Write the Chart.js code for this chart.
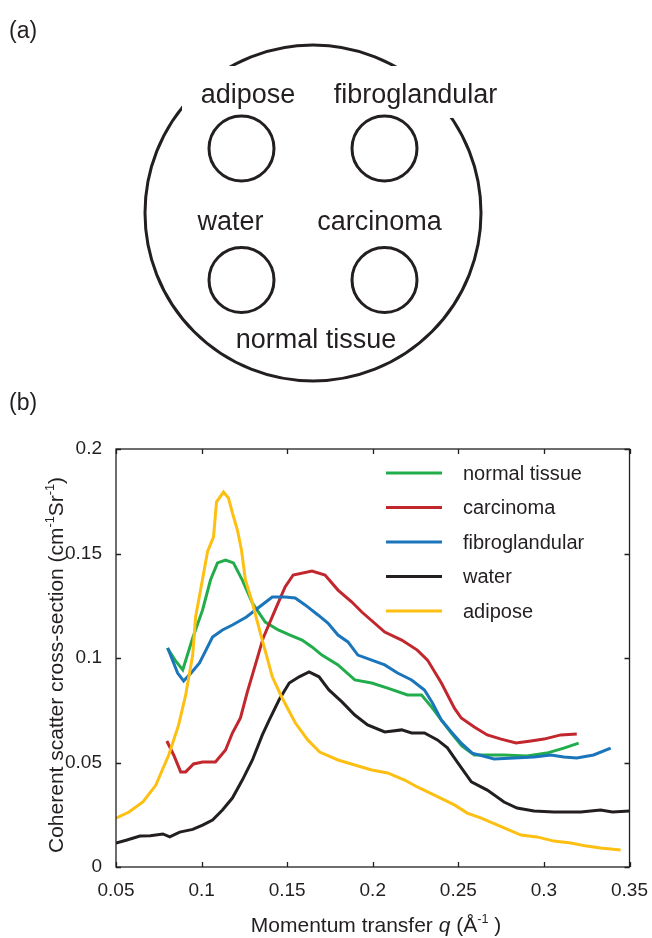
<!DOCTYPE html>
<html>
<head>
<meta charset="utf-8">
<script src="https://cdn.jsdelivr.net/npm/chart.js@4.4.1/dist/chart.umd.min.js"></script>
<style>
  html, body { margin: 0; padding: 0; background: #fff; }
  #quadro { position: relative; width: 652px; height: 938px; }
  #grafico { position: absolute; left: 0; top: 0; }
  #esquema { position: absolute; left: 0; top: 0; }
  #esquema text { font-family: 'Liberation Sans', Arial, sans-serif; fill: #231f20; }
</style>
</head>
<body>
<div id="quadro">
  <canvas id="grafico" width="652" height="938"></canvas>
  <svg id="esquema" width="652" height="430" viewBox="0 0 652 430">
    <text x="9" y="38" font-size="23">(a)</text>
    <circle cx="313" cy="213" r="168" fill="none" stroke="#231f20" stroke-width="3"/>
    <rect x="182" y="66" width="120" height="44" fill="#fff"/>
    <rect x="325" y="66" width="180" height="52" fill="#fff"/>
    <circle cx="241.5" cy="148.5" r="32.5" fill="none" stroke="#231f20" stroke-width="3"/>
    <circle cx="384.5" cy="148.5" r="32.5" fill="none" stroke="#231f20" stroke-width="3"/>
    <circle cx="241.5" cy="280" r="32.5" fill="none" stroke="#231f20" stroke-width="3"/>
    <circle cx="384.5" cy="280" r="32.5" fill="none" stroke="#231f20" stroke-width="3"/>
    <text x="248" y="103" font-size="27" text-anchor="middle">adipose</text>
    <text x="415.5" y="103" font-size="27" text-anchor="middle">fibroglandular</text>
    <text x="230.5" y="230" font-size="27" text-anchor="middle">water</text>
    <text x="379.5" y="230" font-size="27" text-anchor="middle">carcinoma</text>
    <text x="316" y="348" font-size="27" text-anchor="middle">normal tissue</text>
    <text x="9" y="410" font-size="23">(b)</text>
  </svg>
</div>
<script>
// valores (b)
const rotulos = ['normal tissue', 'carcinoma', 'fibroglandular', 'water', 'adipose'];
const cores = ['#21ad4b', '#c1272d', '#1b75bb', '#231f20', '#fdbf12'];

const q_normal = [0.0800, 0.0845, 0.0890, 0.0948, 0.1006, 0.1052, 0.1093, 0.1140, 0.1186, 0.1238, 0.1297, 0.1372, 0.1448, 0.1517, 0.1587, 0.1645, 0.1703, 0.1797, 0.1895, 0.1994, 0.2087, 0.2203, 0.2285, 0.2343, 0.2401, 0.2459, 0.2520, 0.2593, 0.2767, 0.2901, 0.3017, 0.3116, 0.3203];
const cs_normal = [0.1048, 0.0990, 0.0943, 0.1096, 0.1230, 0.1373, 0.1455, 0.1469, 0.1455, 0.1373, 0.1263, 0.1172, 0.1134, 0.1110, 0.1086, 0.1053, 0.1014, 0.0967, 0.0895, 0.0880, 0.0856, 0.0823, 0.0823, 0.0766, 0.0703, 0.0641, 0.0580, 0.0536, 0.0536, 0.0531, 0.0545, 0.0569, 0.0593];

const q_carcinoma = [0.0797, 0.0837, 0.0878, 0.0907, 0.0953, 0.1006, 0.1081, 0.1140, 0.1180, 0.1227, 0.1267, 0.1314, 0.1360, 0.1430, 0.1488, 0.1535, 0.1645, 0.1721, 0.1797, 0.1878, 0.1936, 0.2070, 0.2169, 0.2260, 0.2320, 0.2401, 0.2477, 0.2517, 0.2593, 0.2669, 0.2750, 0.2837, 0.2924, 0.3000, 0.3099, 0.3192];
const cs_carcinoma = [0.0603, 0.0536, 0.0455, 0.0455, 0.0493, 0.0502, 0.0502, 0.0560, 0.0641, 0.0713, 0.0837, 0.0967, 0.1096, 0.1230, 0.1340, 0.1397, 0.1416, 0.1397, 0.1325, 0.1268, 0.1220, 0.1124, 0.1086, 0.1038, 0.0990, 0.0880, 0.0760, 0.0713, 0.0670, 0.0632, 0.0612, 0.0593, 0.0603, 0.0612, 0.0632, 0.0636];

const q_fibro = [0.0802, 0.0860, 0.0895, 0.0940, 0.0988, 0.1064, 0.1122, 0.1180, 0.1262, 0.1337, 0.1413, 0.1488, 0.1547, 0.1605, 0.1680, 0.1738, 0.1797, 0.1855, 0.1913, 0.1994, 0.2070, 0.2145, 0.2227, 0.2302, 0.2349, 0.2401, 0.2459, 0.2520, 0.2581, 0.2709, 0.2826, 0.2942, 0.3041, 0.3116, 0.3192, 0.3290, 0.3390];
const cs_fibro = [0.1048, 0.0928, 0.0890, 0.0930, 0.0976, 0.1100, 0.1134, 0.1158, 0.1196, 0.1244, 0.1292, 0.1292, 0.1287, 0.1254, 0.1206, 0.1167, 0.1110, 0.1077, 0.1014, 0.0990, 0.0967, 0.0928, 0.0895, 0.0847, 0.0785, 0.0703, 0.0646, 0.0590, 0.0545, 0.0517, 0.0522, 0.0526, 0.0536, 0.0526, 0.0522, 0.0536, 0.0569];

const q_agua = [0.0500, 0.0564, 0.0640, 0.0700, 0.0774, 0.0814, 0.0872, 0.0948, 0.1006, 0.1064, 0.1122, 0.1180, 0.1238, 0.1297, 0.1355, 0.1395, 0.1453, 0.1512, 0.1570, 0.1628, 0.1686, 0.1744, 0.1820, 0.1895, 0.1970, 0.2070, 0.2169, 0.2227, 0.2302, 0.2378, 0.2436, 0.2494, 0.2576, 0.2669, 0.2767, 0.2843, 0.2942, 0.3058, 0.3215, 0.3331, 0.3400, 0.3500];
const cs_agua = [0.0115, 0.0129, 0.0148, 0.0150, 0.0158, 0.0144, 0.0167, 0.0180, 0.0200, 0.0225, 0.0273, 0.0330, 0.0416, 0.0512, 0.0632, 0.0703, 0.0800, 0.0880, 0.0910, 0.0933, 0.0910, 0.0847, 0.0790, 0.0727, 0.0680, 0.0646, 0.0656, 0.0641, 0.0641, 0.0608, 0.0570, 0.0502, 0.0407, 0.0368, 0.0311, 0.0282, 0.0268, 0.0263, 0.0263, 0.0273, 0.0263, 0.0268];

const q_adiposo = [0.0500, 0.0576, 0.0657, 0.0733, 0.0808, 0.0866, 0.0907, 0.0948, 0.0965, 0.0994, 0.1035, 0.1070, 0.1087, 0.1128, 0.1157, 0.1180, 0.1210, 0.1233, 0.1256, 0.1297, 0.1343, 0.1390, 0.1413, 0.1470, 0.1547, 0.1620, 0.1690, 0.1797, 0.1895, 0.1994, 0.2087, 0.2186, 0.2260, 0.2360, 0.2477, 0.2552, 0.2634, 0.2767, 0.2866, 0.2959, 0.3058, 0.3157, 0.3250, 0.3331, 0.3448];
const cs_adiposo = [0.0234, 0.0263, 0.0311, 0.0392, 0.0536, 0.0680, 0.0823, 0.1014, 0.1196, 0.1325, 0.1510, 0.1580, 0.1746, 0.1794, 0.1766, 0.1694, 0.1610, 0.1517, 0.1373, 0.1263, 0.1120, 0.0980, 0.0910, 0.0810, 0.0690, 0.0608, 0.0550, 0.0512, 0.0488, 0.0464, 0.0450, 0.0416, 0.0383, 0.0344, 0.0297, 0.0258, 0.0234, 0.0187, 0.0153, 0.0144, 0.0124, 0.0115, 0.0100, 0.0091, 0.0081];

const ticks_x = ['0.05', '0.1', '0.15', '0.2', '0.25', '0.3', '0.35'];
const ticks_y = ['0', '0.05', '0.1', '0.15', '0.2'];

const cor_eixo = '#231f20';
const fonte = "'Liberation Sans', Arial, sans-serif";

function pontos(qs, vs) {
    return qs.map((q, i) => ({ x: q, y: vs[i] }));
}

// texto com expoentes, desenhado centrado em (0,0) do ctx atual
function texto_rico(ctx, partes, tam) {
    const medir = p => {
        ctx.font = (p.italico ? 'italic ' : '') + (p.sup ? tam * 0.6 : tam) + 'px ' + fonte;
        return ctx.measureText(p.t).width;
    };
    const total = partes.reduce((s, p) => s + medir(p), 0);
    let x = -total / 2;
    ctx.textAlign = 'left';
    ctx.textBaseline = 'alphabetic';
    partes.forEach(p => {
        const w = medir(p);
        ctx.fillText(p.t, x, p.sup ? -tam * 0.42 : 0);
        x += w;
    });
}

const moldura = {
    id: 'moldura',
    afterDraw(chart) {
        const { ctx, chartArea: a, scales: { x, y } } = chart;
        ctx.save();
        ctx.strokeStyle = cor_eixo;
        ctx.lineWidth = 1.3;
        ctx.strokeRect(a.left, a.top, a.right - a.left, a.bottom - a.top);
        ctx.beginPath();
        x.ticks.forEach(t => {
            const px = Math.round(x.getPixelForValue(t.value)) + 0.5;
            ctx.moveTo(px, a.bottom); ctx.lineTo(px, a.bottom - 5);
            ctx.moveTo(px, a.top); ctx.lineTo(px, a.top + 5);
        });
        y.ticks.forEach(t => {
            const py = Math.round(y.getPixelForValue(t.value)) + 0.5;
            ctx.moveTo(a.left, py); ctx.lineTo(a.left + 5, py);
            ctx.moveTo(a.right, py); ctx.lineTo(a.right - 5, py);
        });
        ctx.stroke();

        // legenda dentro da area
        ctx.font = '20px ' + fonte;
        ctx.textAlign = 'left';
        ctx.textBaseline = 'middle';
        chart.data.datasets.forEach((ds, i) => {
            const ly = 473 + i * 34.5;
            ctx.strokeStyle = ds.borderColor;
            ctx.lineWidth = 3;
            ctx.beginPath();
            ctx.moveTo(386, ly); ctx.lineTo(442, ly);
            ctx.stroke();
            ctx.fillStyle = cor_eixo;
            ctx.fillText(ds.label, 463, ly + 1);
        });

        // titulos dos eixos
        ctx.fillStyle = cor_eixo;
        ctx.save();
        ctx.translate(63, 665);
        ctx.rotate(-Math.PI / 2);
        texto_rico(ctx, [
            { t: 'Coherent scatter cross-section (cm' }, { t: '-1', sup: true },
            { t: 'Sr' }, { t: '-1', sup: true }, { t: ')' }
        ], 21);
        ctx.restore();
        ctx.save();
        ctx.translate(376, 932);
        texto_rico(ctx, [
            { t: 'Momentum transfer ' }, { t: 'q', italico: true }, { t: ' (Å' },
            { t: '-1', sup: true }, { t: ' )' }
        ], 21);
        ctx.restore();
        ctx.restore();
    }
};

document.addEventListener('DOMContentLoaded', function() {

    const series = [
        pontos(q_normal, cs_normal),
        pontos(q_carcinoma, cs_carcinoma),
        pontos(q_fibro, cs_fibro),
        pontos(q_agua, cs_agua),
        pontos(q_adiposo, cs_adiposo)
    ];

    const dados = {
        datasets: series.map((s, i) => ({
            label: rotulos[i],
            data: s,
            borderColor: cores[i],
            borderWidth: 3,
            pointRadius: 0,
            tension: 0,
            fill: false,
            order: 4 - i
        }))
    };

    const opcoes = {
        responsive: false,
        animation: false,
        layout: { padding: { left: 0, top: 449, right: 20, bottom: 0 } },
        plugins: { legend: false, tooltip: { enabled: false } },
        scales: {
            x: {
                type: 'linear',
                min: 0.05,
                max: 0.35,
                grid: { display: false },
                border: { display: false },
                afterBuildTicks: s => { s.ticks = ticks_x.map(v => ({ value: parseFloat(v) })); },
                afterFit: s => { s.height = 71; },
                ticks: {
                    padding: 4,
                    color: cor_eixo,
                    font: { family: fonte, size: 19 },
                    maxRotation: 0,
                    callback: (v, i) => ticks_x[i]
                }
            },
            y: {
                min: 0,
                max: 0.2,
                grid: { display: false },
                border: { display: false },
                afterBuildTicks: s => { s.ticks = ticks_y.map(v => ({ value: parseFloat(v) })); },
                afterFit: s => { s.width = 116; },
                ticks: {
                    padding: 6,
                    color: cor_eixo,
                    font: { family: fonte, size: 19 },
                    callback: (v, i) => ticks_y[i]
                }
            }
        }
    };

    new Chart(document.querySelector('#grafico'), {
        type: 'line',
        data: dados,
        options: opcoes,
        plugins: [moldura]
    });

})
</script>
</body>
</html>
